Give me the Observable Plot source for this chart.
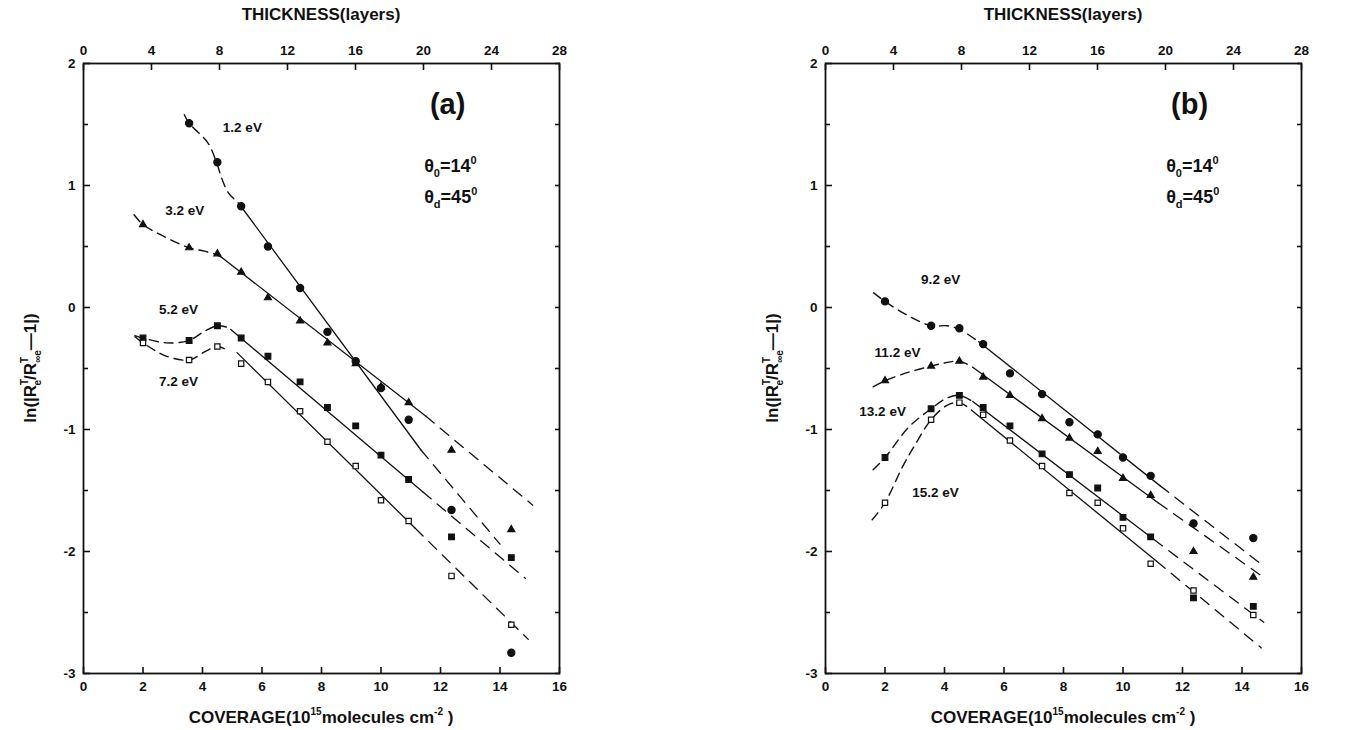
<!DOCTYPE html>
<html><head><meta charset="utf-8">
<script src="https://cdn.jsdelivr.net/npm/d3@7"></script>
<script src="https://cdn.jsdelivr.net/npm/@observablehq/plot@0.6"></script>
<style>
body{margin:0;background:#fff;}
#wrap{display:flex;width:1353px;height:730px;}
svg text{font-family:"Liberation Sans",Arial,Helvetica,sans-serif;}
</style></head><body><div id="wrap"></div>
<script>
// ---------- data ----------
const coverage = [2.0, 3.55, 4.5, 5.3, 6.2, 7.28, 8.2, 9.15, 10.0, 10.93, 12.37, 14.38];
const xTicks = [0, 2, 4, 6, 8, 10, 12, 14, 16];
const thickTicks = [0, 4, 8, 12, 16, 20, 24, 28];
const yTicks = [-3, -2, -1, 0, 1, 2];
const yMinor = [-2.5, -1.5, -0.5, 0.5, 1.5];

// panel (a) measured points
const a12 = [null, 1.51, 1.19, 0.83, 0.50, 0.16, -0.20, -0.44, -0.66, -0.92, -1.66, -2.83];
const a32 = [0.68, 0.49, 0.44, 0.29, 0.08, -0.11, -0.29, -0.46, -0.65, -0.78, -1.17, -1.82];
const a52 = [-0.25, -0.27, -0.15, -0.25, -0.40, -0.61, -0.82, -0.97, -1.21, -1.41, -1.88, -2.05];
const a72 = [-0.29, -0.43, -0.32, -0.46, -0.61, -0.85, -1.10, -1.30, -1.58, -1.75, -2.20, -2.60];
// panel (b) measured points
const b92 = [0.05, -0.15, -0.17, -0.30, -0.54, -0.71, -0.94, -1.04, -1.23, -1.38, -1.77, -1.89];
const b112 = [-0.60, -0.48, -0.44, -0.57, -0.72, -0.91, -1.07, -1.18, -1.40, -1.54, -2.00, -2.21];
const b132 = [-1.23, -0.83, -0.72, -0.82, -0.97, -1.20, -1.37, -1.48, -1.72, -1.88, -2.38, -2.45];
const b152 = [-1.60, -0.92, -0.78, -0.88, -1.09, -1.30, -1.52, -1.60, -1.81, -2.10, -2.32, -2.52];

// fitted curves (head = dashed guide, line = solid fit, tail = dashed extrapolation)
const a12Head = [[3.39, 1.58], [3.55, 1.51], [4.18, 1.35], [4.47, 1.19], [4.66, 1.05], [4.87, 0.94], [5.19, 0.86], [5.29, 0.83]];
const a12Line = [[5.29, 0.83], [11.35, -1.17]];
const a12Tail = [[11.35, -1.17], [14.0, -1.94]];
const a32Head = [[1.7, 0.76], [2.0, 0.68], [2.8, 0.57], [3.55, 0.49], [4.1, 0.46], [4.5, 0.43], [4.65, 0.41]];
const a32Line = [[4.65, 0.41], [11.5, -0.89]];
const a32Tail = [[11.5, -0.89], [15.1, -1.62]];
const a52Head = [[1.73, -0.23], [2.0, -0.25], [2.8, -0.29], [3.55, -0.27], [4.1, -0.19], [4.5, -0.15], [4.8, -0.16]];
const a52Line = [[4.95, -0.18], [11.4, -1.51]];
const a52Tail = [[11.4, -1.51], [14.85, -2.22]];
const a72Head = [[1.73, -0.24], [2.0, -0.29], [2.8, -0.40], [3.55, -0.43], [4.1, -0.36], [4.5, -0.32], [4.9, -0.36]];
const a72Line = [[5.16, -0.37], [11.15, -1.81]];
const a72Tail = [[11.15, -1.81], [14.95, -2.72]];

const b92Head = [[1.62, 0.12], [2.0, 0.05], [2.8, -0.07], [3.55, -0.15], [4.1, -0.15], [4.5, -0.18], [5.15, -0.28]];
const b92Line = [[5.15, -0.28], [11.24, -1.46]];
const b92Tail = [[11.24, -1.46], [14.73, -2.12]];
const b112Head = [[1.6, -0.65], [2.0, -0.60], [2.8, -0.53], [3.55, -0.48], [4.1, -0.45], [4.5, -0.44], [4.95, -0.49]];
const b112Line = [[4.95, -0.49], [11.18, -1.60]];
const b112Tail = [[11.18, -1.60], [14.6, -2.19]];
const b132Head = [[1.6, -1.33], [2.0, -1.23], [2.8, -0.98], [3.55, -0.83], [4.1, -0.74], [4.5, -0.72], [4.95, -0.77]];
const b132Line = [[4.95, -0.77], [11.03, -1.90]];
const b132Tail = [[11.03, -1.90], [14.73, -2.58]];
const b152Head = [[1.57, -1.74], [2.0, -1.60], [2.6, -1.30], [3.0, -1.13], [3.55, -0.92], [4.1, -0.80], [4.5, -0.78], [4.9, -0.84]];
const b152Line = [[4.9, -0.84], [11.13, -2.08]];
const b152Tail = [[11.13, -2.08], [14.65, -2.79]];

// series labels
const labelsA = [
  {name: "1.2 eV", x: 5.34, y: 1.47},
  {name: "3.2 eV", x: 3.4, y: 0.79},
  {name: "5.2 eV", x: 3.19, y: -0.02},
  {name: "7.2 eV", x: 3.19, y: -0.61}
];
const labelsB = [
  {name: "9.2 eV", x: 3.87, y: 0.23},
  {name: "11.2 eV", x: 2.42, y: -0.37},
  {name: "13.2 eV", x: 1.92, y: -0.85},
  {name: "15.2 eV", x: 3.70, y: -1.52}
];

// ---------- drawing ----------
const INK = "#111";
function pts(arr) {
  return coverage.map((c, i) => ({c, v: arr[i]})).filter(d => d.v != null);
}
const xy = {x: d => d[0], y: d => d[1]};
const none = () => "";
const lab = {label: null, fontWeight: "bold", fontSize: 13.5, tickSize: 0};
const tk = {label: null, tickFormat: none, tickSize: 6, strokeWidth: 1.6};

function makePanel(p) {
  const topTicks = thickTicks.map(t => t * 16 / 28);
  const allY = yTicks.concat(yMinor);
  const marks = [
    Plot.frame({stroke: INK, strokeWidth: 1.8}),
    // inward ticks
    Plot.axisX({anchor: "bottom", ticks: xTicks, ...tk, dy: -6}),
    Plot.axisX({anchor: "top", ticks: topTicks, ...tk, dy: 6}),
    Plot.axisY({anchor: "left", ticks: yTicks, ...tk, tickSize: 7, dx: 7}),
    Plot.axisY({anchor: "left", ticks: yMinor, ...tk, tickSize: 5, dx: 5}),
    Plot.axisY({anchor: "right", ticks: allY, ...tk, tickSize: 5, dx: -5}),
    // tick labels
    Plot.axisX({anchor: "bottom", ticks: xTicks, tickFormat: d => String(d), tickPadding: 8, ...lab}),
    Plot.axisX({anchor: "top", ticks: topTicks, tickFormat: d => String(Math.round(d * 28 / 16)), tickPadding: 9, ...lab}),
    Plot.axisY({anchor: "left", ticks: yTicks, tickFormat: d => String(d), tickPadding: 8, ...lab})
  ];
  for (const s of p.series) {
    marks.push(Plot.line(s.head, {...xy, curve: "catmull-rom", stroke: INK, strokeWidth: 1.4, strokeDasharray: "9,6"}));
    marks.push(Plot.line(s.line, {...xy, stroke: INK, strokeWidth: 1.3}));
    marks.push(Plot.line(s.tail, {...xy, stroke: INK, strokeWidth: 1.3, strokeDasharray: "11,8"}));
    marks.push(Plot.dot(pts(s.values), {x: "c", y: "v", symbol: s.symbol, r: s.r,
      fill: s.fill, stroke: INK, strokeWidth: 1.2}));
  }
  marks.push(Plot.text(p.labels, {x: "x", y: "y", text: "name", fontWeight: "bold", fontSize: 13.5, fill: INK}));
  marks.push(Plot.text([p.tag], {x: () => 12.24, y: () => 1.66, text: d => d, fontWeight: "bold", fontSize: 29, fill: INK}));
  marks.push(Plot.text(["θ0=14°", "θd=45°"], {x: () => 11.45, y: (d, i) => [1.16, 0.90][i], text: d => d,
    textAnchor: "start", fontWeight: "bold", fontSize: 18, fill: INK}));
  const svg = Plot.plot({
    width: p.width, height: 730,
    marginLeft: p.ml, marginRight: p.width - p.ml - 476, marginTop: 63, marginBottom: 57,
    x: {domain: [0, 16]}, y: {domain: [-3, 2]},
    style: {fontFamily: "Liberation Sans, Arial, sans-serif", color: INK, background: "white", overflow: "visible"},
    marks
  });
  const S = d3.select(svg);
  // subscripts / superscripts in the angle notes
  S.selectAll("text").filter(function () { return this.textContent === "θ0=14°" || this.textContent === "θd=45°"; })
    .each(function () {
      const t = d3.select(this);
      const txt = this.textContent;
      const sub = txt[1], val = txt.slice(3, 5);
      t.text(null);
      t.append("tspan").text("θ");
      t.append("tspan").attr("font-size", 11).attr("dy", 5).text(sub);
      t.append("tspan").attr("dy", -5).text("=" + val);
      t.append("tspan").attr("font-size", 11).attr("dy", -8).text("0");
    });
  const cx = p.ml + 238;
  // top title
  S.append("text").attr("x", cx).attr("y", 20).attr("text-anchor", "middle")
    .attr("font-weight", "bold").attr("font-size", 17).attr("fill", INK).text("THICKNESS(layers)");
  // bottom title
  const bt = S.append("text").attr("x", cx).attr("y", 723).attr("text-anchor", "middle")
    .attr("font-weight", "bold").attr("font-size", 17).attr("fill", INK);
  bt.append("tspan").text("COVERAGE(10");
  bt.append("tspan").attr("font-size", 10).attr("dy", -8).text("15");
  bt.append("tspan").attr("dy", 8).text("molecules cm");
  bt.append("tspan").attr("font-size", 10).attr("dy", -8).text("-2");
  bt.append("tspan").attr("dy", 8).text(" )");
  // y label
  const yl = S.append("text").attr("transform", `translate(${p.ml - 47},368) rotate(-90)`)
    .attr("text-anchor", "middle").attr("font-weight", "bold").attr("font-size", 17).attr("fill", INK);
  yl.append("tspan").text("ln(|R");
  yl.append("tspan").attr("font-size", 10).attr("dy", -8).text("T");
  yl.append("tspan").attr("font-size", 10).attr("dx", -6).attr("dy", 13).text("e");
  yl.append("tspan").attr("dy", -5).text("/R");
  yl.append("tspan").attr("font-size", 10).attr("dy", -8).text("T");
  yl.append("tspan").attr("font-size", 10).attr("dx", -6).attr("dy", 13).text("∞e");
  yl.append("tspan").attr("dy", -5).text("—1|)");
  return svg;
}

const wrap = document.getElementById("wrap");
wrap.appendChild(makePanel({
  width: 676, ml: 83, tag: "(a)", labels: labelsA,
  series: [
    {values: a12, head: a12Head, line: a12Line, tail: a12Tail, symbol: "circle", r: 3.6, fill: INK},
    {values: a32, head: a32Head, line: a32Line, tail: a32Tail, symbol: "triangle", r: 2.6, fill: INK},
    {values: a52, head: a52Head, line: a52Line, tail: a52Tail, symbol: "square", r: 3.2, fill: INK},
    {values: a72, head: a72Head, line: a72Line, tail: a72Tail, symbol: "square", r: 3.0, fill: "white"}
  ]
}));
wrap.appendChild(makePanel({
  width: 677, ml: 149, tag: "(b)", labels: labelsB,
  series: [
    {values: b92, head: b92Head, line: b92Line, tail: b92Tail, symbol: "circle", r: 3.6, fill: INK},
    {values: b112, head: b112Head, line: b112Line, tail: b112Tail, symbol: "triangle", r: 2.6, fill: INK},
    {values: b132, head: b132Head, line: b132Line, tail: b132Tail, symbol: "square", r: 3.2, fill: INK},
    {values: b152, head: b152Head, line: b152Line, tail: b152Tail, symbol: "square", r: 3.0, fill: "white"}
  ]
}));
</script></body></html>
